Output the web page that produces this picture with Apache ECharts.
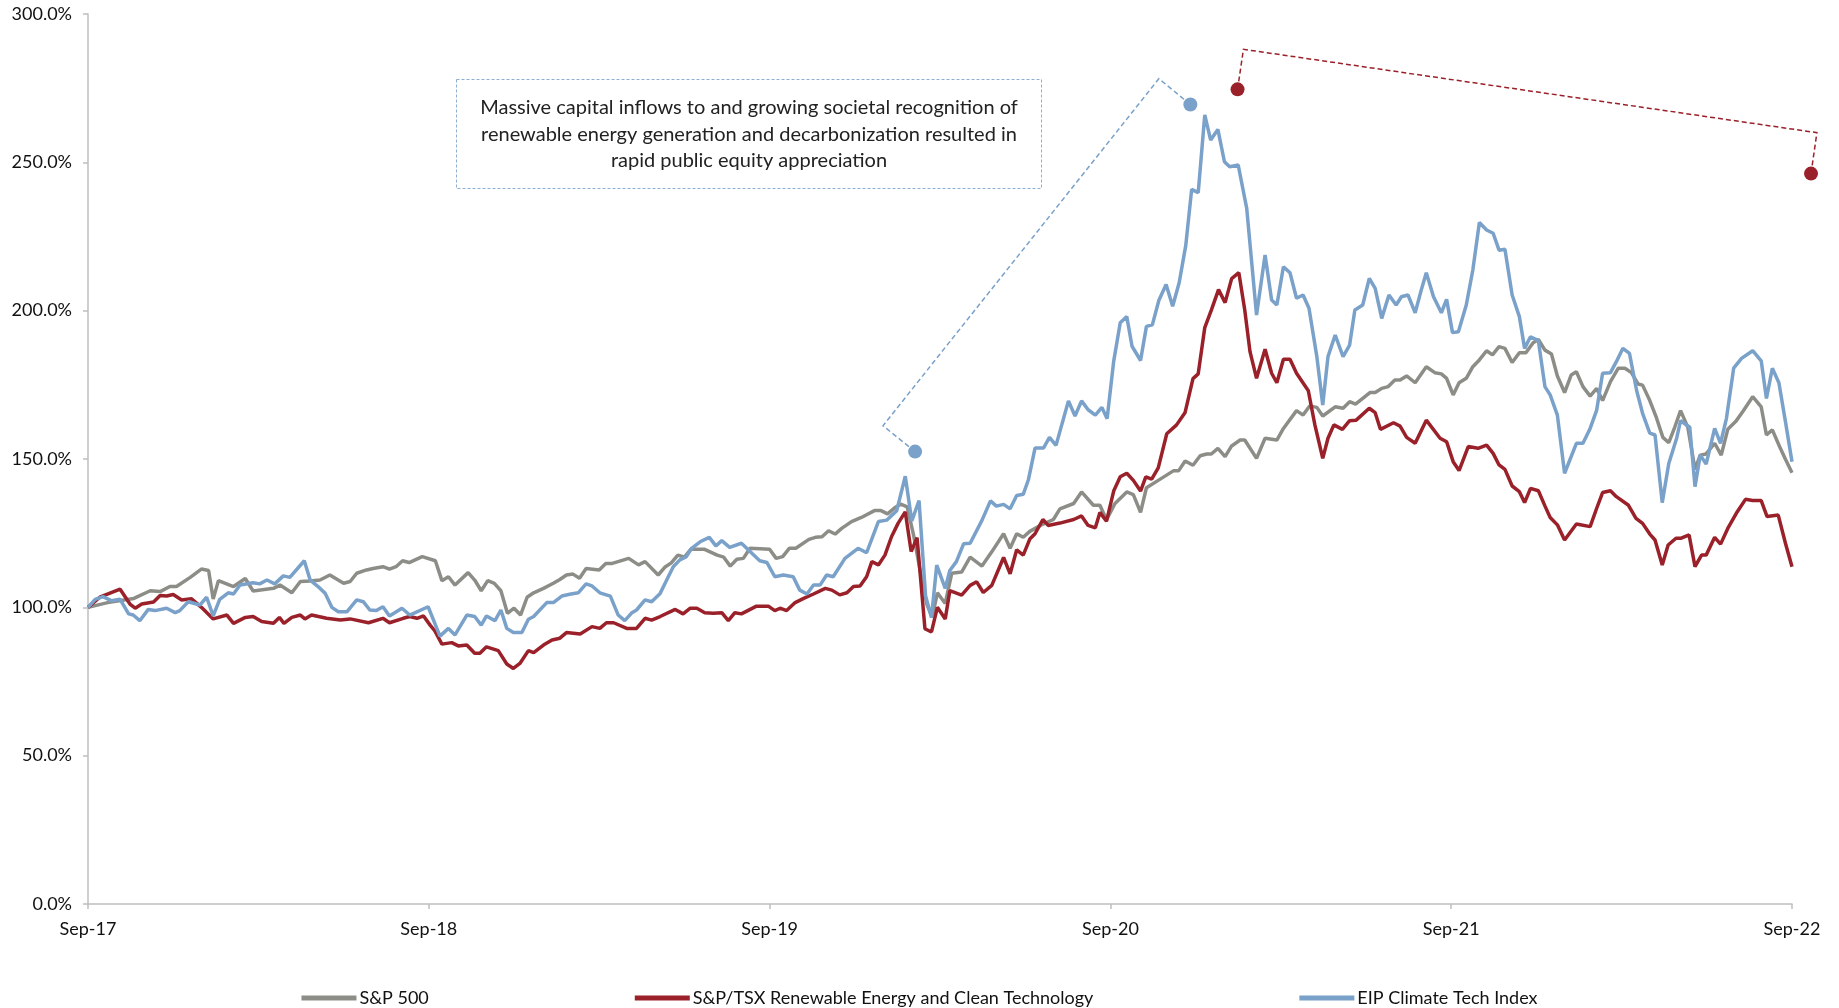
<!DOCTYPE html>
<html>
<head>
<meta charset="utf-8">
<script src="https://cdn.jsdelivr.net/npm/echarts@6/dist/echarts.min.js"></script>
<style>
  html, body { margin: 0; padding: 0; background: #fff; }
  #chart { width: 1839px; height: 1008px; }
</style>
</head>
<body>
<div id="chart"></div>
<script>
// weeks since Sep-17, value indexed to 100%
const tickLabels = ['Sep-17', 'Sep-18', 'Sep-19', 'Sep-20', 'Sep-21', 'Sep-22']
const seriesNames = ['S&P 500', 'S&P/TSX Renewable Energy and Clean Technology', 'EIP Climate Tech Index']

const sp500 = [
  [0,100],[3,101.6],[7,103],[9.5,105.6],[11,105.3],[12.5,107],[13.5,107],[15.6,110.1],[17.3,112.9],[18.4,112.4],
  [19.1,102.8],[19.9,109],[22.2,107],[24,109.7],[25.2,105.5],[28.3,106.4],[29.3,107.5],[31.1,104.9],[32.4,108.7],
  [33.9,108.9],[35.4,109.2],[36.9,110.9],[39,108.1],[40,108.7],[41,111.5],[42.5,112.6],[43.5,113.1],[45,113.7],
  [46,112.9],[47,113.7],[48,115.7],[49,115.1],[51,117.1],[53,115.7],[54,109],[55,110.3],[56,107.5],[58,111.7],
  [59,109.2],[60,105.6],[61,109],[62,108.1],[63,105.6],[64,98],[65,99.7],[66,97.4],[67,103.4],[68,104.9],
  [69.5,106.4],[71,108.1],[72,109.4],[73,110.9],[74,111.2],[75,109.8],[76,113.1],[78,112.6],[79,114.8],[80,114.8],
  [82.5,116.5],[84,114.3],[85,115.4],[87,110.9],[88,113.5],[89,115],[90,117.6],[91,116.9],[92,119.6],[94,119.6],
  [96,117.6],[97,116.9],[98,113.9],[99,116.2],[100,116.5],[101,119.9],[104,119.6],[105,116.5],[106,117.1],
  [107,119.9],[108,119.9],[110,122.9],[111,123.6],[112,123.8],[113,125.8],[114,124.7],[115,126.6],[116.5,128.9],
  [118,130.3],[120,132.6],[121,132.6],[122,131.5],[123,133.4],[124,134.8],[125,133.9],[126,124],[127,112],
  [128,101],[128.8,96.6],[129.6,104.9],[130.8,101.3],[131.8,111.5],[133.3,111.9],[134.6,116.9],[136.4,113.9],
  [137.9,118.7],[139.7,124.8],[140.7,119.9],[141.7,124.8],[142.7,123.6],[143.7,125.6],[145.3,127.6],[147.3,129.6],
  [148.3,133.2],[150.4,135],[151.6,138.9],[153.4,134.4],[154.4,134.4],[155.4,129.5],[156.7,135],[158.5,138.9],
  [159.5,138],[160.6,132],[161.5,140.3],[163.3,142.8],[165.6,146],[166.4,146],[167.4,149.3],[168.6,147.9],
  [169.7,151.1],[170.7,151.7],[171.4,151.7],[172.4,153.6],[173.5,150.8],[174.5,154.4],[175.8,156.4],[176.5,156.4],
  [178.3,150.2],[179.6,157],[181.4,156.4],[182.4,160.3],[184.4,166.3],[185.4,164.8],[186.4,167.9],[187.5,167.4],
  [188.4,164.5],[190.3,167.6],[191.5,167.1],[192.5,169.3],[193.4,168.5],[195.6,172.4],[196.4,172.4],[197.4,173.8],
  [198.4,174.4],[199.4,176.6],[200.2,176.6],[201.2,178],[202.5,175.7],[204.2,181.1],[205.5,179.1],[206.5,178.7],
  [207.3,177.2],[208.3,171.6],[209.2,175.7],[210.3,177.2],[211.3,181.1],[212.3,183.4],[213.4,186.5],[214.3,185.1],
  [215.3,187.9],[216.2,187.3],[217.3,182.5],[218.4,185.8],[219.4,185.8],[220.5,189.2],[221.3,190.3],[222.3,186.7],
  [223.3,185.4],[224.2,178],[225.3,172.4],[226.3,178.3],[227.1,179.4],[228.1,174.4],[229.2,171.2],[230.2,173.8],
  [231.1,169.7],[232.3,176.1],[233.5,180.6],[234.5,180.6],[235.5,179.1],[236.5,175.3],[237.2,174.9],[238.3,169.7],
  [239.3,164],[240.3,157.3],[241.2,155.5],[242.1,160.7],[243,166.3],[244.1,160.7],[245.2,146.5],[246,151.3],
  [246.9,151.7],[248.2,155.3],[249.2,151.3],[250.2,160],[251.4,162.6],[252.5,166],[254,171],[255.3,167.6],
  [256.1,158.1],[257,159.8],[258.1,154.2],[259,149.9],[260,145.4]
]

const tsxClean = [
  [0,100],[1.8,103.4],[4.9,106.1],[6.4,101.1],[7.2,99.7],[8.2,101.1],[10,101.8],[11,104],[12,103.8],[13,104.3],
  [14.3,102.5],[15.8,102.9],[17.3,100],[19.1,96.1],[21.2,97.4],[22.2,94.6],[24,96.6],[25.2,96.9],[26.5,95.2],
  [28.3,94.6],[29.2,96.6],[29.9,94.6],[31.1,96.6],[32.4,97.4],[33.1,96.1],[34.1,97.4],[36.4,96.3],[38.5,95.7],
  [40,96.1],[42.8,94.8],[45,96.3],[46,94.8],[48.1,96.3],[49.1,96.9],[50.2,96.3],[51.2,97.1],[52.2,94],[52.9,92.1],
  [54,87.6],[55.5,88.1],[56.5,87],[57.8,87.3],[59,84.5],[59.8,84.5],[60.8,86.7],[62.6,85.4],[63.9,80.9],[64.9,79.4],
  [65.9,81.1],[67.2,85.4],[68,84.7],[69.5,87.3],[70.8,89],[72,89.6],[73,91.5],[75.1,91],[76.9,93.5],[78.1,92.9],
  [79.1,94.8],[80.2,94.8],[82.2,92.9],[83.7,92.9],[85,96.3],[86,95.7],[87.3,96.9],[89.6,99.3],[90.8,97.8],
  [91.9,99.7],[92.9,99.7],[94.1,98.2],[95.4,98],[96.7,98.2],[97.7,95.5],[98.7,98.2],[99.7,97.8],[102,100.4],
  [103.8,100.4],[104.8,98.9],[105.6,99.7],[106.6,98.9],[107.9,101.6],[109.2,103],[110.7,104.5],[112.5,106.4],
  [113.5,105.8],[114.7,104.2],[115.8,104.9],[116.8,107],[117.8,107.2],[118.8,110.3],[119.6,115.4],[120.6,114.3],
  [121.6,117.6],[122.6,123.8],[123.6,128.3],[124.7,132.2],[125.6,118.8],[126.5,123.5],[127.7,92.8],[128.7,91.7],
  [129.6,100],[130.8,96.1],[131.5,105.6],[133.3,104.1],[134.6,107.4],[135.6,108.6],[136.6,105],[137.9,107.4],
  [139.7,116.8],[140.7,111.3],[141.7,119.4],[142.7,117.6],[143.7,123],[144.5,124.8],[145.7,129.6],[146.5,127.6],
  [148.3,128.4],[150.4,129.6],[151.6,130.8],[152.6,127.6],[153.7,126.8],[154.4,132],[155.4,129],[156.5,139.2],
  [157.5,144],[158.5,145.2],[159.5,142.8],[160.6,139.2],[161.4,144],[162.3,143.2],[163.3,147],[164.6,158.5],
  [166.1,161.5],[167.4,165.7],[168.6,177.1],[169.4,178.7],[170.4,194.3],[171.4,200.2],[172.5,207.1],[173.5,202.7],
  [174.5,210.8],[175.6,212.8],[176.5,200.2],[177.3,186.2],[178.3,177.2],[179.6,187],[180.6,178.9],[181.4,175.7],
  [182.4,183.6],[183.4,183.6],[184.4,178.9],[186.2,173],[187.2,161.5],[188.4,150.2],[189.2,157],[190.1,161.5],
  [191.4,160],[192.5,162.9],[193.5,163.1],[195.5,167.1],[196.4,165.6],[197.2,160],[199.2,162.2],[200.2,161.1],
  [201.2,157.3],[202.5,155.3],[204.2,163.1],[206.3,157],[207.3,155.8],[208.3,149.1],[209.2,146.1],[210.6,154.2],
  [212.1,153.6],[213.4,154.7],[214.4,151.9],[215.3,148],[216.2,146.5],[217.3,140.9],[218.4,139],[219.2,135.3],
  [220.1,140.1],[221.3,139.3],[222.3,134.2],[223.1,130.3],[224.2,127.8],[225.3,122.7],[227.1,128.1],[229.2,127.2],
  [230.2,133.4],[231.1,138.7],[232.3,139.3],[233.2,137.3],[235,134.5],[236.2,130],[237.2,128.3],[238.3,124.7],
  [239.1,122.7],[240.2,114.3],[241.1,121],[242.3,123.3],[243.1,123.3],[244.3,124.4],[245.2,113.7],[246.2,117.6],
  [246.9,117.6],[248.2,123.6],[249.1,121.3],[250.2,126.6],[251.5,131.7],[252.9,136.4],[254,136],[255.3,136],
  [256.2,130.6],[257.9,131.1],[259,121.6],[260,113.7]
]

const eipClimate = [
  [0,100],[1.1,102.7],[2.3,103.6],[3.6,102.2],[4.9,102.7],[6.2,97.8],[6.9,97.4],[7.9,95.5],[9.2,99.3],[10.2,98.9],
  [12,99.7],[13.3,98.2],[14,98.9],[15.3,101.9],[17.1,100.8],[18.1,103.4],[19.1,97.1],[20.1,102.7],[21.4,104.9],
  [22.2,104.5],[23.2,107.5],[25.2,108.3],[26.2,107.9],[27.3,109.2],[28.5,107.9],[29.8,110.6],[30.8,110.1],[33,115.7],
  [33.9,109.2],[35.1,107],[36.2,104.7],[37.2,100],[38.2,98.5],[39.5,98.5],[41,102.5],[42,101.9],[43,99.1],[44,98.9],
  [45,100.2],[46,97.1],[47.9,99.7],[49.1,97.4],[51.9,100.2],[53.7,90.3],[55,92.9],[56,90.7],[57.8,97.4],[59,96.9],
  [60,94],[60.8,97.1],[62.1,95.5],[63,99.1],[63.9,92.9],[64.9,91.5],[66.2,91.5],[67.2,96],[68,96.9],[70,101.6],
  [71,101.6],[72.3,103.8],[73.5,104.4],[74.8,104.9],[76,107.9],[76.9,107.2],[78.1,104.9],[79.7,103.8],[80.9,97.4],
  [81.9,95.5],[83,98.2],[83.7,99.1],[85,102.5],[86,101.9],[87.3,104.7],[88.3,109.2],[89.3,113.7],[90.3,116],
  [91.3,117.1],[92.1,119.9],[93.4,122.1],[94.8,123.6],[95.8,120.7],[96.7,122.5],[97.9,120.2],[99.7,121.6],
  [101.3,118.2],[102.5,115.7],[103.6,115.1],[104.8,110.3],[106.1,110.9],[107.6,110.3],[108.6,105.8],[109.7,104.5],
  [110.7,107.5],[111.7,107.5],[112.7,110.9],[113.7,110.3],[115.5,116.5],[117.5,119.9],[118.8,118.4],[120.6,128.9],
  [121.9,129.4],[123.4,132.6],[124.7,144.2],[125.7,129.1],[126.8,136],[127.8,103.8],[128.7,96.6],[129.5,114.2],
  [130.8,106.4],[131.5,112.4],[132.5,115.4],[133.6,121.4],[134.6,121.6],[136.4,129.3],[137.7,135.9],[138.6,134.1],
  [139.7,134.7],[140.7,133.2],[141.7,137.7],[142.7,138.1],[143.5,143.1],[144.5,153.7],[145.8,153.7],[146.7,157.3],
  [147.7,154.6],[149.6,169.6],[150.6,164.5],[151.6,169.6],[152.6,166.6],[153.7,164.8],[154.7,167.4],[155.5,163.6],
  [156.5,182.9],[157.5,195.9],[158.5,198],[159.3,188],[160.6,183.2],[161.5,194.7],[162.4,195.2],[163.4,203.5],
  [164.5,208.8],[165.5,201.5],[166.5,209.5],[167.5,222],[168.4,240.9],[169.4,239.8],[170.4,266],[171.3,257.5],
  [172.4,261.1],[173.4,250.2],[174.2,248.5],[175.5,249.1],[176.8,234.5],[178.3,198.5],[179.6,218.8],[180.6,203.6],
  [181.4,201.9],[182.4,214.8],[183.4,212.8],[184.4,204.2],[185.4,205.3],[186.3,200.8],[187.5,184.5],[188.4,168.2],
  [189.2,184.5],[190.3,191.8],[191.5,184.5],[192.5,188.4],[193.3,200.2],[194.5,201.9],[195.5,210.9],[196.4,207.5],
  [197.4,197.4],[198.5,205.3],[199.6,201.9],[200.4,204.7],[201.4,205.3],[202.5,199.3],[203.5,207.5],[204.2,212.8],
  [205.3,204.7],[206.5,199.3],[207.3,203.8],[208.2,192.6],[209.1,192.9],[210.3,201.9],[211.3,213.7],[212.3,229.7],
  [213.4,227.2],[214.4,226.1],[215.3,220.4],[216.2,220.7],[217.3,205.3],[218.4,198],[219.2,187.3],[220.1,191.2],
  [221.3,189.9],[222.3,174.4],[223.1,171.6],[224.2,164.8],[225.3,145.2],[227.1,155.3],[228.1,155.3],[229.2,160.3],
  [230.2,166.5],[231.1,178.9],[232.3,179.1],[233.2,182.8],[234.2,187.3],[235.2,185.6],[236.3,173],[237.2,165.4],
  [238.3,158.7],[239.1,158.1],[240.2,135.3],[241.2,148.5],[242.4,157],[243,162.9],[244.4,160.7],[245.2,140.7],
  [246,151.3],[246.9,148.3],[248.2,160.3],[249.1,155.3],[250,163.7],[251.1,180.6],[252.3,183.9],[254,186.5],
  [255.3,183.1],[256.1,170.4],[257,180.6],[258,175.7],[259,162.6],[260,149.1]
]

// callout brackets, in the same week / % units
const blueCallout = [[126.2,152.5],[121.3,161.2],[163.4,278.2],[168.2,269.5]]
const redCallout = [[175.4,274.6],[176.3,288.1],[263.8,260],[262.9,246.2]]
const calloutText = 'Massive capital inflows to and growing societal recognition of\nrenewable energy generation and decarbonization resulted in\nrapid public equity appreciation'

const colors = ['#8d8d88', '#9a2129', '#7aa1c9']

const chart = echarts.init(document.getElementById('chart'))

function mainLine(name, data, color) {
  return {
    name, type: 'line', data, symbol: 'none', z: 3,
    lineStyle: { color, width: 3.5 }, itemStyle: { color }
  }
}

const calloutBox = {
  type: 'group', left: 456, top: 79,
  children: [
    { type: 'rect', shape: { x: 0, y: 0, width: 585, height: 109 },
      style: { fill: '#fff', stroke: '#8eaed4', lineWidth: 1, lineDash: [3, 2] } },
    { type: 'text', x: 292.5, y: 55,
      style: { text: calloutText, fill: '#222', font: '20px Lato', align: 'center',
        verticalAlign: 'middle', lineHeight: 26.5 } }
  ]
}

chart.setOption({
  animation: false,
  grid: { left: 88, right: 47, top: 14, bottom: 104 },
  xAxis: {
    type: 'value', min: 0, max: 260, interval: 52,
    axisLine: { lineStyle: { color: '#bfbfbf', width: 1.5 } },
    axisTick: { show: true, length: 5, lineStyle: { color: '#bfbfbf', width: 1.5 } },
    axisLabel: {
      margin: 16, color: '#111', fontFamily: 'Lato', fontSize: 18,
      formatter: (v) => tickLabels[Math.round(v / 52)] || ''
    },
    splitLine: { show: false }
  },
  yAxis: {
    type: 'value', min: 0, max: 300, interval: 50,
    axisLine: { show: true, lineStyle: { color: '#bfbfbf', width: 1.5 } },
    axisTick: { show: true, length: 5, lineStyle: { color: '#bfbfbf', width: 1.5 } },
    axisLabel: {
      margin: 16, color: '#111', fontFamily: 'Lato', fontSize: 18,
      formatter: (v) => v.toFixed(1) + '%'
    },
    splitLine: { show: false }
  },
  legend: {
    data: seriesNames,
    top: 984, left: 'center', itemGap: 206, itemWidth: 55, itemHeight: 5,
    icon: 'rect',
    textStyle: { fontFamily: 'Lato', fontSize: 18, color: '#111', padding: [0, 0, 0, -2] }
  },
  graphic: [calloutBox],
  series: [
    mainLine(seriesNames[0], sp500, colors[0]),
    mainLine(seriesNames[1], tsxClean, colors[1]),
    mainLine(seriesNames[2], eipClimate, colors[2])
  ]
})

// callout brackets go past the plot edge, so draw them as graphics placed through the axis scales
function calloutGraphics(points, color) {
  const px = points.map((p) => chart.convertToPixel({ xAxisIndex: 0, yAxisIndex: 0 }, p))
  const ends = [px[0], px[px.length - 1]]
  return [
    { type: 'polyline', z: 10, shape: { points: px },
      style: { stroke: color, lineWidth: 1.5, lineDash: [5, 3], fill: null } },
    ...ends.map((c) => ({ type: 'circle', z: 11, shape: { cx: c[0], cy: c[1], r: 7 }, style: { fill: color } }))
  ]
}

chart.setOption({
  graphic: [calloutBox, ...calloutGraphics(blueCallout, '#7aa1c9'), ...calloutGraphics(redCallout, '#9a2129')]
}, { replaceMerge: ['graphic'] })

window.addEventListener('resize', () => chart.resize())
</script>
</body>
</html>
